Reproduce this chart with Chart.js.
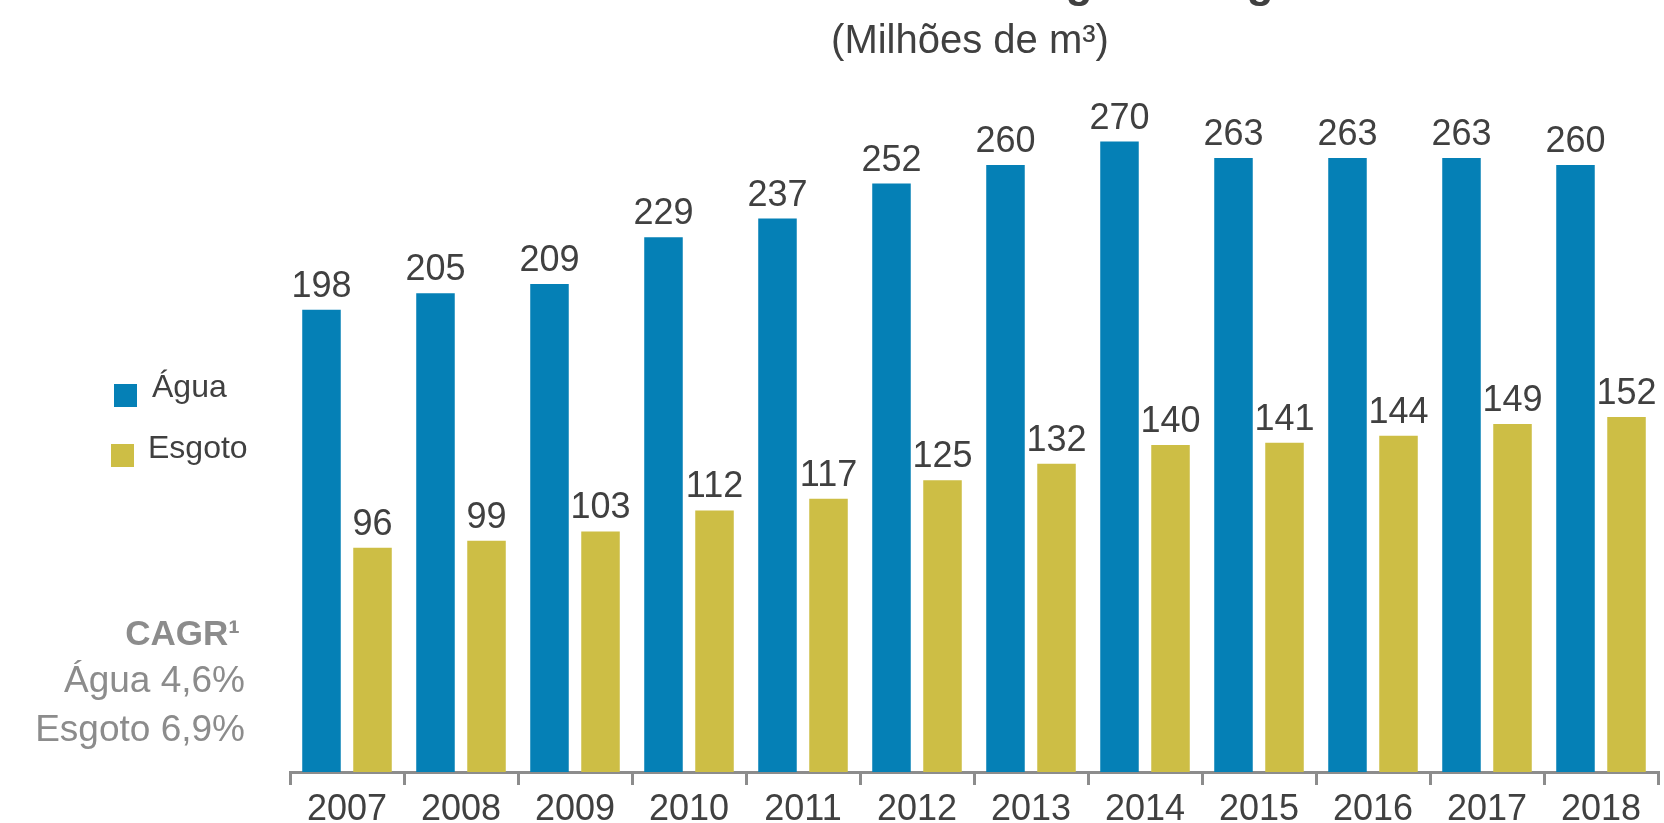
<!DOCTYPE html>
<html>
<head>
<meta charset="utf-8">
<script src="https://cdn.jsdelivr.net/npm/chart.js@4"></script>
<style>
  html, body { margin: 0; padding: 0; background: #fff; }
  #wrap { width: 1664px; height: 823px; position: relative; }
</style>
</head>
<body>
<div id="wrap"><canvas id="myChart"></canvas></div>
<script>
const years = ['2007', '2008', '2009', '2010', '2011', '2012', '2013', '2014', '2015', '2016', '2017', '2018'];
const agua = [198, 205, 209, 229, 237, 252, 260, 270, 263, 263, 263, 260];
const esgoto = [96, 99, 103, 112, 117, 125, 132, 140, 141, 144, 149, 152];
const seriesNames = ['Água', 'Esgoto'];
const cagrLines = ['Água 4,6%', 'Esgoto 6,9%'];

const FONT = '"Liberation Sans", Arial, sans-serif';
const BLUE = '#0580b6';
const GOLD = '#cdbe45';
const DARK = '#404040';
const GREY = '#8c8c8c';

// titles, legend, CAGR note and value labels
const extras = {
    id: 'extras',
    afterDatasetsDraw(chart) {
        const ctx = chart.ctx;
        const area = chart.chartArea;
        const cx = (area.left + area.right) / 2;
        ctx.save();

        ctx.fillStyle = DARK;
        ctx.textAlign = 'center';
        ctx.textBaseline = 'alphabetic';
        ctx.font = 'bold 44px ' + FONT;
        ctx.fillText('Volume Faturado de Água e Esgoto', cx - 2, -3);
        ctx.font = '40px ' + FONT;
        ctx.fillText('(Milhões de m³)', cx - 4, 53);

        // value labels
        ctx.font = '36px ' + FONT;
        chart.data.datasets.forEach((ds, i) => {
            chart.getDatasetMeta(i).data.forEach((bar, j) => {
                ctx.fillText(String(ds.data[j]), bar.x, bar.y - 13);
            });
        });

        // legend
        const legendPos = [{ box: 114, text: 152, top: 384, base: 397 }, { box: 111, text: 148, top: 444, base: 458 }];
        ctx.textAlign = 'left';
        ctx.font = '32px ' + FONT;
        chart.data.datasets.forEach((ds, i) => {
            const p = legendPos[i];
            ctx.fillStyle = ds.backgroundColor;
            ctx.fillRect(p.box, p.top, 23, 23);
            ctx.fillStyle = DARK;
            ctx.fillText(ds.label, p.text, p.base);
        });

        // CAGR note
        ctx.textAlign = 'right';
        ctx.fillStyle = GREY;
        ctx.font = 'bold 35px ' + FONT;
        ctx.fillText('CAGR¹', 240, 645);
        ctx.font = '37px ' + FONT;
        ctx.fillText(cagrLines[0], 245, 692);
        ctx.fillText(cagrLines[1], 245, 741);

        ctx.restore();
    }
};

const myChart = new Chart(document.getElementById('myChart'), {
    type: 'bar',
    data: {
        labels: years,
        datasets: [
            { label: seriesNames[0], data: agua, backgroundColor: BLUE },
            { label: seriesNames[1], data: esgoto, backgroundColor: GOLD }
        ]
    },
    options: {
        responsive: true,
        maintainAspectRatio: false,
        animation: false,
        categoryPercentage: 0.895,
        barPercentage: 0.755,
        layout: { padding: { left: 290, right: 6, top: 71.5, bottom: 0 } },
        plugins: {
            legend: { display: false },
            title: { display: false },
            tooltip: { enabled: false }
        },
        scales: {
            x: {
                afterFit: (scale) => { scale.height = 51; },
                grid: {
                    offset: true,
                    drawOnChartArea: false,
                    drawTicks: true,
                    tickLength: 13,
                    color: GREY,
                    lineWidth: 3
                },
                border: { color: GREY, width: 3 },
                ticks: {
                    color: DARK,
                    padding: 3,
                    font: { family: FONT, size: 36 }
                }
            },
            y: {
                display: false,
                min: 0,
                max: 300
            }
        }
    },
    plugins: [extras]
});
</script>
</body>
</html>
